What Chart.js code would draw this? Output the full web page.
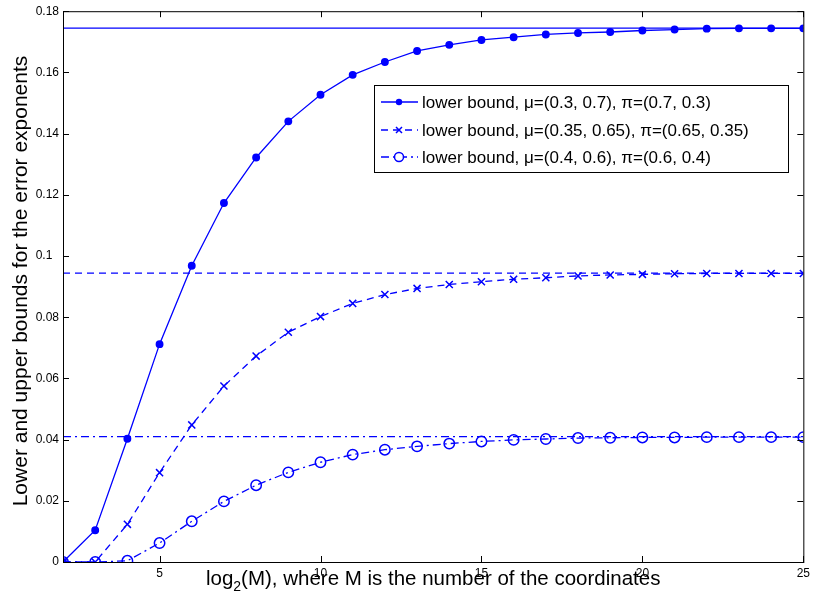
<!DOCTYPE html>
<html>
<head>
<meta charset="utf-8">
<script src="https://cdn.jsdelivr.net/npm/chart.js@4/dist/chart.umd.min.js"></script>
<style>
  html, body { margin: 0; padding: 0; background: #fff; }
  #wrap { width: 814px; height: 606px; }
</style>
</head>
<body>
<div id="wrap"><canvas id="chart" width="814" height="606"></canvas></div>
<script>
// values
const logM = [2, 3, 4, 5, 6, 7, 8, 9, 10, 11, 12, 13, 14, 15, 16, 17, 18, 19, 20, 21, 22, 23, 24, 25];

const lb1 = [0, 0.0104, 0.0403, 0.0712, 0.0968, 0.1173, 0.1322, 0.1440, 0.1527, 0.1592, 0.1634, 0.1670,
             0.1690, 0.1706, 0.1715, 0.1724, 0.1729, 0.1732, 0.1737, 0.1740, 0.1743, 0.1744, 0.1744, 0.1744];
const lb2 = [0, 0, 0.0123, 0.0292, 0.0448, 0.0575, 0.0673, 0.0751, 0.0802, 0.0845, 0.0874, 0.0894,
             0.0907, 0.0916, 0.0924, 0.0929, 0.0935, 0.0938, 0.0940, 0.0942, 0.0943, 0.0943, 0.0943, 0.0943];
const lb3 = [0, 0, 0.0004, 0.0062, 0.0133, 0.0198, 0.0251, 0.0293, 0.0326, 0.0351, 0.0367, 0.0378,
             0.0387, 0.0394, 0.0399, 0.0402, 0.0405, 0.0406, 0.0407, 0.0407, 0.0408, 0.0408, 0.0408, 0.0408];

// upper bounds (horizontal lines)
const upper = [0.1745, 0.0944, 0.0410];

const legendLabels = [
  'lower bound, \u03bc=(0.3, 0.7), \u03c0=(0.7, 0.3)',
  'lower bound, \u03bc=(0.35, 0.65), \u03c0=(0.65, 0.35)',
  'lower bound, \u03bc=(0.4, 0.6), \u03c0=(0.6, 0.4)'
];
const xTicks = [5, 10, 15, 20, 25];
const yTicks = [0, 0.02, 0.04, 0.06, 0.08, 0.1, 0.12, 0.14, 0.16, 0.18];

const BLUE = '#0000ff';
const FONT = '"Liberation Sans", Arial, sans-serif';
const dashes = [[], [7, 5], [8, 4, 2, 4]];
const markers = ['circle', 'crossRot', 'circle'];
const radii = [3.2, 5, 5.2];
const fills = [BLUE, BLUE, 'rgba(0,0,0,0)'];

const toPts = ys => logM.map((x, i) => ({ x: x, y: ys[i] }));
const series = [lb1, lb2, lb3];

const datasets = [];
series.forEach((ys, i) => {
  datasets.push({
    label: legendLabels[i],
    data: toPts(ys),
    borderColor: BLUE,
    backgroundColor: fills[i],
    borderWidth: 1.3,
    borderDash: dashes[i],
    pointStyle: markers[i],
    pointRadius: radii[i],
    pointBorderWidth: 1.5,
    pointBorderColor: BLUE,
    pointBackgroundColor: fills[i],
    tension: 0
  });
});
upper.forEach((u, i) => {
  datasets.push({
    label: 'upper' + i,
    data: [{ x: logM[0], y: u }, { x: logM[logM.length - 1], y: u }],
    borderColor: BLUE,
    borderWidth: 1.3,
    borderDash: dashes[i],
    pointRadius: 0
  });
});

// box, inward ticks, axis titles and legend, drawn MATLAB style
const decor = {
  id: 'decor',
  afterDraw(chart) {
    const ctx = chart.ctx;
    const a = chart.chartArea;
    const xs = chart.scales.x, ys = chart.scales.y;
    ctx.save();
    ctx.strokeStyle = '#000';
    ctx.lineWidth = 1;
    ctx.setLineDash([]);
    ctx.strokeRect(a.left + 0.5, a.top + 0.5, a.right - a.left, a.bottom - a.top);
    const tl = 6;
    xTicks.forEach(t => {
      const px = Math.round(xs.getPixelForValue(t)) + 0.5;
      ctx.beginPath();
      ctx.moveTo(px, a.bottom); ctx.lineTo(px, a.bottom - tl);
      ctx.moveTo(px, a.top); ctx.lineTo(px, a.top + tl);
      ctx.stroke();
    });
    yTicks.forEach(t => {
      const py = Math.round(ys.getPixelForValue(t)) + 0.5;
      ctx.beginPath();
      ctx.moveTo(a.left, py); ctx.lineTo(a.left + tl, py);
      ctx.moveTo(a.right, py); ctx.lineTo(a.right - tl, py);
      ctx.stroke();
    });

    // axis titles
    ctx.fillStyle = '#000';
    ctx.textBaseline = 'alphabetic';
    const big = '20.5px ' + FONT, small = '14px ' + FONT;
    const p1 = 'log', p2 = '2', p3 = '(M), where M is the number of the coordinates';
    ctx.font = big;
    const w1 = ctx.measureText(p1).width;
    const w3 = ctx.measureText(p3).width;
    ctx.font = small;
    const w2 = ctx.measureText(p2).width;
    const x0 = (a.left + a.right) / 2 - (w1 + w2 + w3) / 2;
    const by = 585;
    ctx.textAlign = 'left';
    ctx.font = big;
    ctx.fillText(p1, x0, by);
    ctx.font = small;
    ctx.fillText(p2, x0 + w1, by + 6);
    ctx.font = big;
    ctx.fillText(p3, x0 + w1 + w2, by);

    ctx.save();
    ctx.translate(27, 281);
    ctx.rotate(-Math.PI / 2);
    ctx.textAlign = 'center';
    ctx.font = '21px ' + FONT;
    ctx.fillText('Lower and upper bounds for the error exponents', 0, 0);
    ctx.restore();

    // legend
    const lx = 374, ly = 85, lw = 414, lh = 87;
    ctx.fillStyle = '#fff';
    ctx.fillRect(lx, ly, lw, lh);
    ctx.strokeStyle = '#000';
    ctx.lineWidth = 1;
    ctx.strokeRect(lx + 0.5, ly + 0.5, lw, lh);
    const rows = [102, 130, 157];
    ctx.font = '17px ' + FONT;
    ctx.textBaseline = 'middle';
    rows.forEach((ry, i) => {
      const mx = lx + 25;
      ctx.strokeStyle = BLUE;
      ctx.lineWidth = 1.3;
      ctx.setLineDash(dashes[i]);
      ctx.beginPath();
      ctx.moveTo(lx + 7, ry); ctx.lineTo(lx + 44, ry);
      ctx.stroke();
      ctx.setLineDash([]);
      ctx.fillStyle = BLUE;
      ctx.lineWidth = 1.5;
      ctx.beginPath();
      if (i === 0) {
        ctx.arc(mx, ry, 3.2, 0, Math.PI * 2); ctx.fill();
      } else if (i === 1) {
        const r = 3;
        ctx.moveTo(mx - r, ry - r); ctx.lineTo(mx + r, ry + r);
        ctx.moveTo(mx + r, ry - r); ctx.lineTo(mx - r, ry + r);
        ctx.stroke();
      } else {
        ctx.fillStyle = '#fff';
        ctx.arc(mx, ry, 4.5, 0, Math.PI * 2); ctx.fill(); ctx.stroke();
      }
      ctx.fillStyle = '#000';
      ctx.textAlign = 'left';
      ctx.fillText(legendLabels[i], lx + 48, ry + 1);
    });
    ctx.restore();
  }
};

new Chart(document.getElementById('chart'), {
  type: 'line',
  data: { datasets: datasets },
  options: {
    responsive: false,
    animation: false,
    layout: { padding: { top: 8, right: 6, left: 0, bottom: 0 } },
    plugins: { legend: { display: false }, tooltip: { enabled: false } },
    scales: {
      x: {
        type: 'linear',
        min: 2, max: 25,
        afterFit: s => { s.height = 44; },
        afterBuildTicks: s => { s.ticks = xTicks.map(v => ({ value: v })); },
        grid: { display: false, drawTicks: false, tickLength: 0 },
        border: { display: false },
        ticks: { color: '#000', font: { family: FONT, size: 12 }, padding: 4, maxRotation: 0 }
      },
      y: {
        min: 0, max: 0.18,
        afterFit: s => { s.width = 63; },
        afterBuildTicks: s => { s.ticks = yTicks.map(v => ({ value: v })); },
        grid: { display: false, drawTicks: false, tickLength: 0 },
        border: { display: false },
        ticks: {
          color: '#000', font: { family: FONT, size: 12 }, padding: 4,
          callback: v => {
            const s = String(Math.round(v * 100) / 100);
            return s === '0.1' ? s + '\u2007' : s;
          }
        }
      }
    }
  },
  plugins: [decor]
});
</script>
</body>
</html>
